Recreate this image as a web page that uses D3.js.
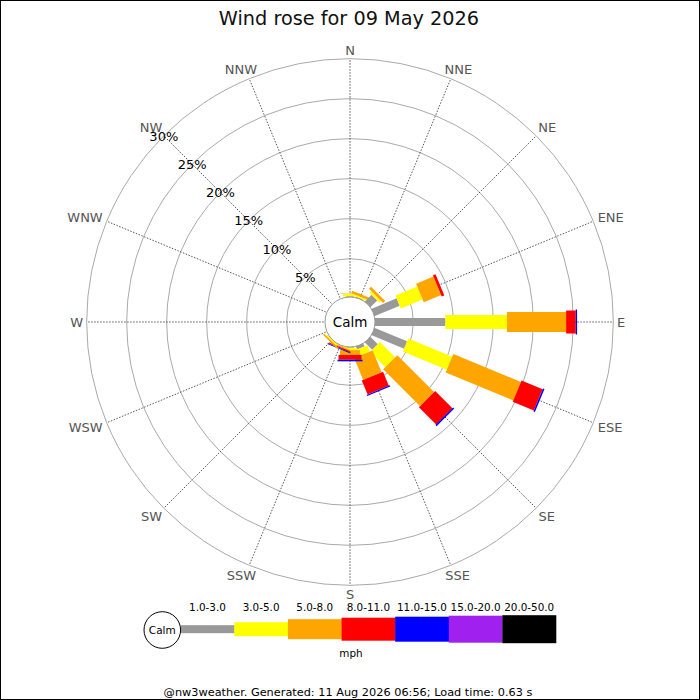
<!DOCTYPE html>
<html>
<head>
<meta charset="utf-8">
<script src="https://cdn.jsdelivr.net/npm/d3@7"></script>
<style>
html,body{margin:0;padding:0;background:#fff;}
svg{display:block;font-family:"DejaVu Sans",sans-serif;}
</style>
</head>
<body>
<svg id="chart" width="700" height="700"></svg>
<script>
// ---- data ----
const directions = ["N","NNE","NE","ENE","E","ESE","SE","SSE","S","SSW","SW","WSW","W","WNW","NW","NNW"];
const speedBins = ["1.0-3.0","3.0-5.0","5.0-8.0","8.0-11.0","11.0-15.0","15.0-20.0","20.0-50.0"];
// percentage of time per direction for each speed bin (mph)
const bin1to3   = [0.3,0.3,1.4,3.6,9.0,4.6,1.5,0.6,0.3,0.15,0.2,0,0,0,0,0];
const bin3to5   = [0.3,0.2,0.3,2.95,7.7,5.95,2.7,0.85,0.3,0.15,0.2,0,0,0,0,0];
const bin5to8   = [0.05,0.3,0.35,2.35,7.4,9.15,6.5,2.95,0.6,0.15,0.2,0,0,0,0,0];
const bin8to11  = [0,0,0,0.35,1.2,2.85,3.05,1.9,0.6,0.15,0,0,0,0,0,0];
const bin11to15 = [0,0,0,0,0.17,0.2,0.2,0.15,0.2,0.1,0,0,0,0,0,0];
const bin15to20 = [0,0,0,0,0,0,0,0,0,0,0,0,0,0,0,0];
const bin20to50 = [0,0,0,0,0,0,0,0,0,0,0,0,0,0,0,0];
const series = [bin1to3,bin3to5,bin5to8,bin8to11,bin11to15,bin15to20,bin20to50];
const pctTicks = [5,10,15,20,25,30];
const pctTickLabels = ["5%","10%","15%","20%","25%","30%"];
const titleText = "Wind rose for 09 May 2026";
const footerText = "@nw3weather. Generated: 11 Aug 2026 06:56; Load time: 0.63 s";
const unitText = "mph";
const calmText = "Calm";

// ---- styles ----
const binColors = ["#999999","#ffff00","#ffa500","#ff0000","#0000ff","#a020f0","#000000"];
const binWidths = [8,14,20,23,25,27,28];

const svg = d3.select("#chart");
const cx = 350, cy = 322;
const r = d3.scaleLinear().domain([0,30]).range([23.33,263.33]);
const ang = d3.scaleLinear().domain([0,16]).range([0,360]);

// border
svg.append("rect").attr("x",0.5).attr("y",0.5).attr("width",699).attr("height",699)
  .attr("fill","none").attr("stroke","#000").attr("stroke-width",1);

// title
svg.append("text").attr("x",349).attr("y",25).attr("text-anchor","middle")
  .attr("font-size",19.3).attr("fill","#111").text(titleText);

const g = svg.append("g").attr("transform",`translate(${cx},${cy})`);

// grid circles
g.selectAll("circle.grid").data(pctTicks).join("circle").attr("class","grid")
  .attr("r",d=>r(d)).attr("fill","none").attr("stroke","#aaaaaa").attr("stroke-width",1);

// spokes
g.selectAll("line.spoke").data(directions).join("line").attr("class","spoke")
  .attr("x1",(d,i)=>r(0)*Math.sin(ang(i)*Math.PI/180))
  .attr("y1",(d,i)=>-r(0)*Math.cos(ang(i)*Math.PI/180))
  .attr("x2",(d,i)=>r(30)*Math.sin(ang(i)*Math.PI/180))
  .attr("y2",(d,i)=>-r(30)*Math.cos(ang(i)*Math.PI/180))
  .attr("stroke","#444").attr("stroke-width",0.9).attr("stroke-dasharray","1.5,1.5");

// direction labels
const capH = 9.5;
g.selectAll("text.dir").data(directions).join("text").attr("class","dir")
  .attr("font-size",13).attr("fill","#555").attr("text-anchor","middle")
  .text(d=>d)
  .each(function(d,i){
    const a = ang(i)*Math.PI/180, s = Math.sin(a), c = Math.cos(a);
    const R = 267 + 3*Math.abs(Math.sin(2*a));
    const w = this.getComputedTextLength();
    d3.select(this)
      .attr("x", R*s + (w/2)*s)
      .attr("y", -R*c - (capH/2)*c + capH/2);
  });

// bars
directions.forEach((d,i)=>{
  let cum = 0;
  const bg = g.append("g").attr("transform",`rotate(${ang(i)})`);
  series.forEach((arr,k)=>{
    const v = arr[i];
    if (v > 0) {
      const r0 = r(cum), r1 = r(cum+v);
      bg.append("rect").attr("x",-binWidths[k]/2).attr("y",-r1)
        .attr("width",binWidths[k]).attr("height",r1-r0).attr("fill",binColors[k]);
      cum += v;
    }
  });
});

// calm circle
g.append("circle").attr("r",25).attr("fill","#fff").attr("stroke","#999").attr("stroke-width",1);
g.append("text").attr("x",0).attr("y",4.8).attr("text-anchor","middle")
  .attr("font-size",13.5).attr("fill","#000").text(calmText);

// percentage labels along NW
g.selectAll("text.pct").data(pctTicks).join("text").attr("class","pct")
  .attr("x",d=>-r(d)*Math.SQRT1_2).attr("y",d=>-r(d)*Math.SQRT1_2 + 4.7)
  .attr("text-anchor","middle").attr("font-size",13).attr("fill","#000")
  .text((d,i)=>pctTickLabels[i]);

// legend
const legX = d3.scaleBand().domain(speedBins).range([180.7,556]);
const legY = 629.2;
const leg = svg.append("g");
leg.selectAll("rect").data(speedBins).join("rect")
  .attr("x",d=>legX(d)).attr("width",legX.bandwidth()+0.3)
  .attr("y",(d,i)=>legY-binWidths[i]/2).attr("height",(d,i)=>binWidths[i])
  .attr("fill",(d,i)=>binColors[i]);
leg.selectAll("text.bin").data(speedBins).join("text").attr("class","bin")
  .attr("x",d=>legX(d)+legX.bandwidth()/2).attr("y",610.5)
  .attr("text-anchor","middle").attr("font-size",10.4).attr("fill","#000").text(d=>d);
leg.append("circle").attr("cx",162.3).attr("cy",630).attr("r",18.3)
  .attr("fill","#fff").attr("stroke","#000").attr("stroke-width",1);
leg.append("text").attr("x",162.3).attr("y",633.8).attr("text-anchor","middle")
  .attr("font-size",10.5).attr("fill","#000").text(calmText);
leg.append("text").attr("x",351).attr("y",656.5).attr("text-anchor","middle")
  .attr("font-size",10.4).attr("fill","#000").text(unitText);

// footer
svg.append("text").attr("x",348).attr("y",696).attr("text-anchor","middle")
  .attr("font-size",11.3).attr("fill","#000").text(footerText);
</script>
</body>
</html>
